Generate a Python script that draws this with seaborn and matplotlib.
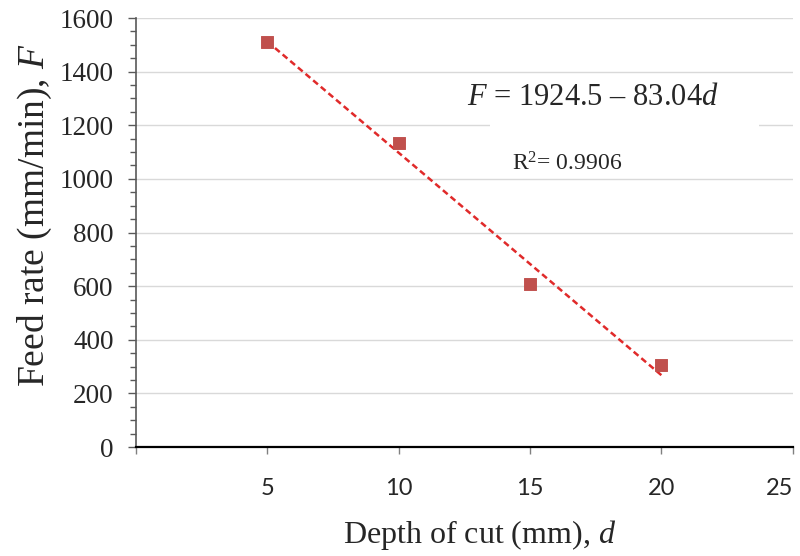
import numpy as np
import matplotlib.pyplot as plt
import matplotlib.patches as mpatches
import seaborn as sns
import pandas as pd

# data
depth = [5, 10, 15, 20]
feed_rate = [1512, 1135, 608, 305]
x_ticks = [0, 5, 10, 15, 20, 25]
x_tick_labels = ['', '5', '10', '15', '20', '25']
y_ticks = [0, 200, 400, 600, 800, 1000, 1200, 1400, 1600]
eq_label = '$F$ = 1924.5 \u2013 83.04$d$'
r2_label = 'R$^2$= 0.9906'

sns.set_theme(style='white')
plt.rcParams['font.family'] = ['Liberation Serif', 'DejaVu Serif']
plt.rcParams['mathtext.fontset'] = 'custom'
plt.rcParams['mathtext.rm'] = 'Liberation Serif'
plt.rcParams['mathtext.it'] = 'Liberation Serif:italic'

df = pd.DataFrame({'d': depth, 'F': feed_rate})

# linear trend line (least squares)
slope, intercept = np.polyfit(df['d'], df['F'], 1)
trend = pd.DataFrame({'d': [min(depth), max(depth)]})
trend['F'] = intercept + slope * trend['d']

fig = plt.figure(figsize=(8, 5.56), dpi=100)
ax = fig.add_axes([0.17, 0.196, 0.821, 0.7716])

sns.lineplot(data=trend, x='d', y='F', ax=ax, color='#E02A2A', lw=1.8,
             linestyle=(0, (2.5, 1.5)), zorder=3)
sns.scatterplot(data=df, x='d', y='F', ax=ax, marker='s', s=70,
                color='#C0504D', edgecolor='#C0504D', zorder=4)

ax.set_xlim(0, 25)
ax.set_ylim(0, 1600)
ax.set_xticks(x_ticks)
ax.set_xticklabels(x_tick_labels, family='Lato', fontsize=17)
ax.get_xticklabels()[-1].set_ha('right')
ax.set_yticks(y_ticks)
ax.set_yticks(np.arange(0, 1601, 50), minor=True)
ax.tick_params(axis='y', which='major', labelsize=19.5, length=6, width=1,
               color='#595959', direction='out', left=True, pad=10)
ax.tick_params(axis='y', which='minor', length=4, width=1,
               color='#595959', direction='out', left=True)
ax.tick_params(axis='x', which='major', length=5, width=1,
               color='#808080', direction='out', bottom=True, pad=17)

ax.grid(axis='y', which='major', color='#d9d9d9', lw=1)
ax.set_axisbelow(True)
for s in ['top', 'right']:
    ax.spines[s].set_visible(False)
ax.spines['left'].set_color('#595959')
ax.spines['left'].set_linewidth(1.2)
ax.spines['bottom'].set_color('black')
ax.spines['bottom'].set_linewidth(1.6)

ax.set_xlabel('Depth of cut (mm), $d$', fontsize=23, labelpad=14)
ax.xaxis.label.set_x(0.523)
ax.set_ylabel('Feed rate (mm/min), $F$', fontsize=27, labelpad=4)
ax.yaxis.label.set_y(0.54)

# white label box hiding the gridline under the equation block
ax.add_patch(mpatches.Rectangle((0.539, 0.72), 0.41, 0.07, transform=ax.transAxes,
                                facecolor='white', edgecolor='none', zorder=1.5))
ax.text(0.695, 0.815, eq_label, transform=ax.transAxes, fontsize=22,
        ha='center', va='center', zorder=5)
ax.text(0.657, 0.66, r2_label, transform=ax.transAxes, fontsize=17,
        ha='center', va='center', zorder=5)

fig.savefig('out.png', dpi=100)
